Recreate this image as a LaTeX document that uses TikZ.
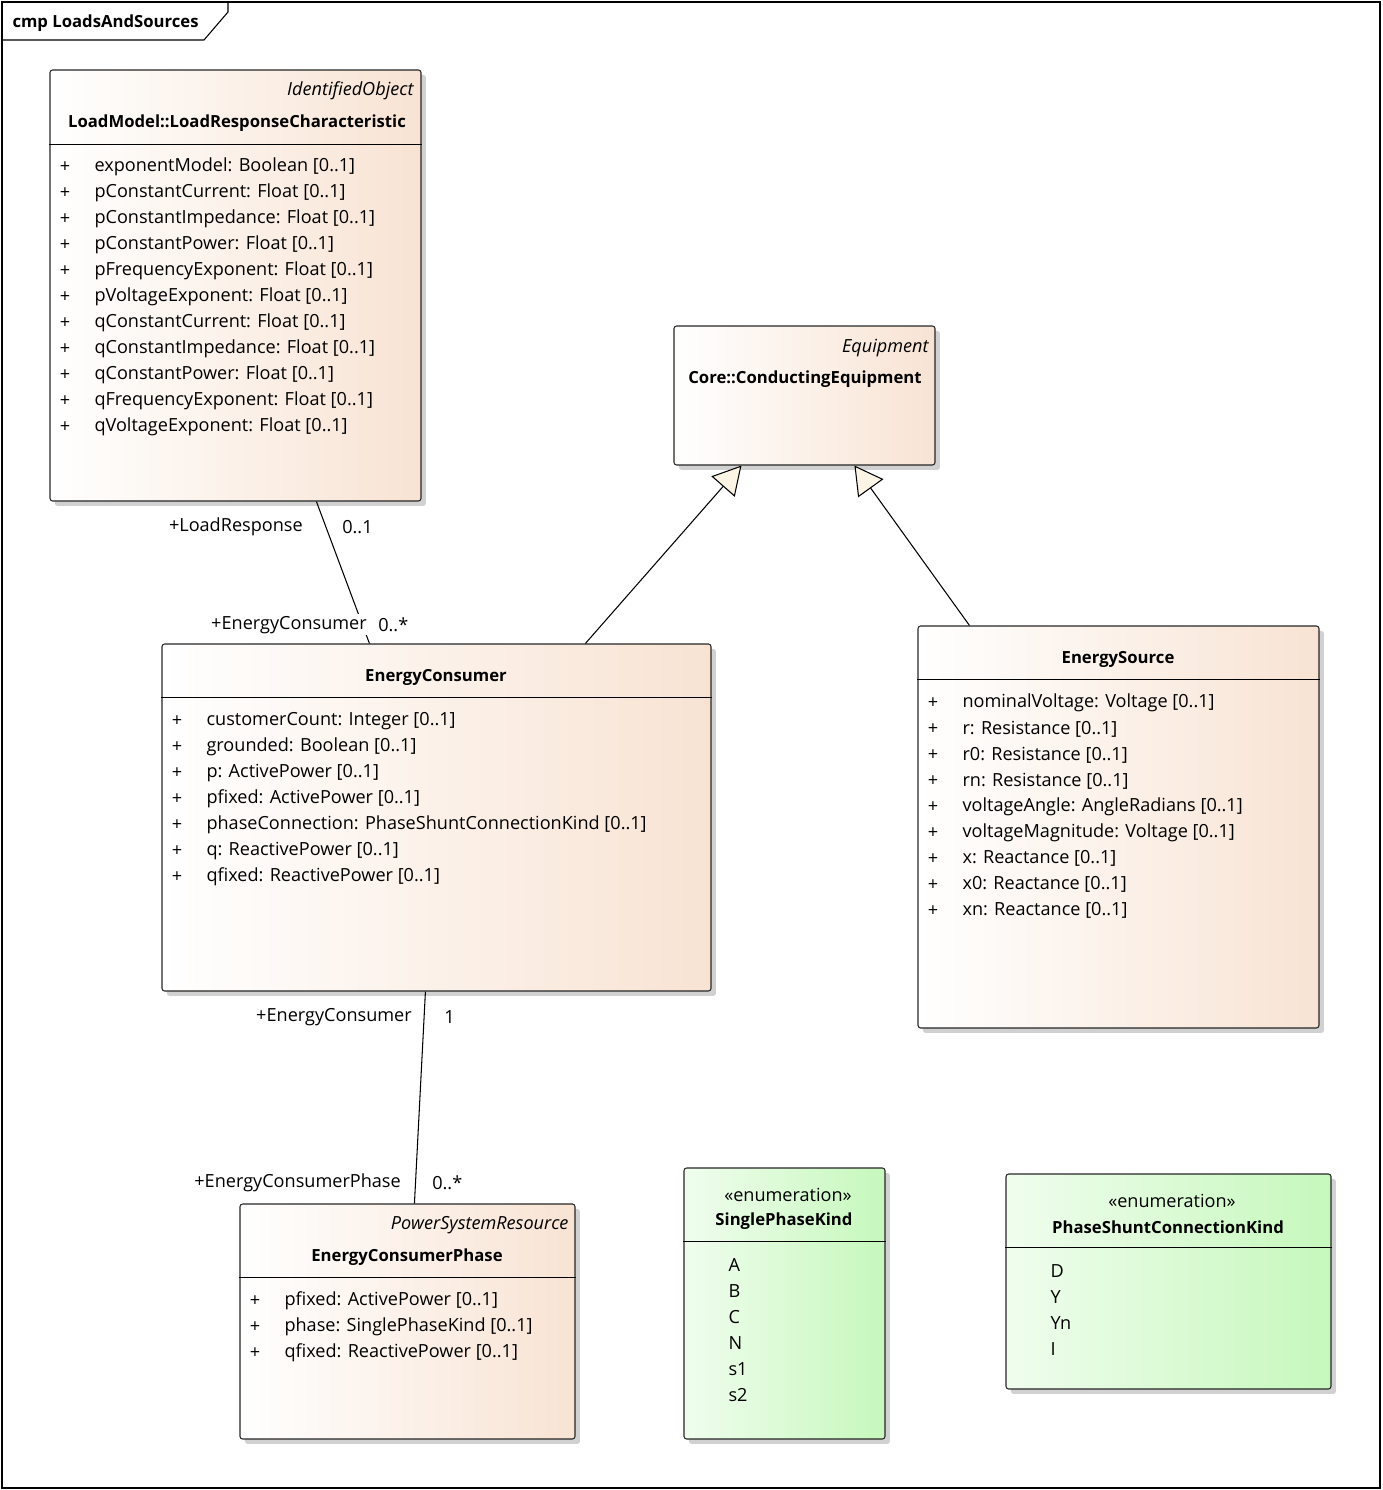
\documentclass[tikz,border=0pt]{standalone}
\usepackage{fontspec}
\setmainfont{Open Sans}
\usetikzlibrary{fit,shadows,arrows.meta}
\definecolor{peach}{RGB}{248,227,211}
\definecolor{mint}{RGB}{198,248,188}
\definecolor{mintlight}{RGB}{240,253,238}
\definecolor{tricream}{RGB}{252,244,228}
\begin{document}
\begin{tikzpicture}[x=0.02cm, y=-0.02cm, line width=0.6pt,
    classbox/.style={draw=black!85, rounded corners=1.5pt, inner sep=0pt,
      left color=white, right color=peach,
      drop shadow={shadow xshift=2.8pt, shadow yshift=-2.8pt, fill=black!18, opacity=1}},
    enumbox/.style={classbox, left color=mintlight, right color=mint},
    attr/.style={anchor=west, inner sep=0pt, yshift=-1.6pt, font=\fontsize{10.3}{12}\selectfont},
    cname/.style={inner sep=0pt, yshift=-1.6pt, font=\bfseries\fontsize{9.5}{12}\selectfont},
    stereo/.style={anchor=east, inner sep=0pt, yshift=-1.6pt, font=\itshape\fontsize{10.3}{12}\selectfont},
    role/.style={inner sep=1pt, fill=white, yshift=-1.6pt, font=\fontsize{10.3}{12}\selectfont},
    gen/.style={-{Triangle[length=0.56cm, width=0.62cm, fill=tricream]}}]
    \useasboundingbox (0,0) rectangle (1382,1490);

    % frame
    \draw (2,2) rectangle (1380,1488);
    \draw (2,40) -- (204,40) -- (228,12) -- (228,2);
    \node[attr, font=\bfseries\fontsize{9.5}{12}\selectfont] (title) at (12,20) {cmp LoadsAndSources};

    % classes
    \node[classbox, fit={(50,70) (421,501)}] (lrc) {};
    \node[stereo] at (414,88) (lrcst) {IdentifiedObject};
    \node[cname] at (237,120) (lrcname) {LoadModel::LoadResponseCharacteristic};
    \draw ([yshift=-1.5cm]lrc.north west) -- ([yshift=-1.5cm]lrc.north east);
    \foreach \a [count=\i from 0] in {{exponentModel: Boolean [0..1]}, {pConstantCurrent: Float [0..1]},
        {pConstantImpedance: Float [0..1]}, {pConstantPower: Float [0..1]}, {pFrequencyExponent: Float [0..1]},
        {pVoltageExponent: Float [0..1]}, {qConstantCurrent: Float [0..1]}, {qConstantImpedance: Float [0..1]},
        {qConstantPower: Float [0..1]}, {qFrequencyExponent: Float [0..1]}, {qVoltageExponent: Float [0..1]}} {
      \node[attr, anchor=center] at (65,{164+26*\i}) {+};
      \node[attr] at (94,{164+26*\i}) {\a};
    }

    \node[classbox, fit={(674,326) (935,465)}] (ce) {};
    \node[stereo] at (929,345) (cest) {Equipment};
    \node[cname] at (805,376) (cename) {Core::ConductingEquipment};

    \node[classbox, fit={(162,644) (711,991)}] (ec) {};
    \node[cname] at (436,675) (ecname) {EnergyConsumer};
    \draw ([yshift=-1.08cm]ec.north west) -- ([yshift=-1.08cm]ec.north east);
    \foreach \a [count=\i from 0] in {{customerCount: Integer [0..1]}, {grounded: Boolean [0..1]},
        {p: ActivePower [0..1]}, {pfixed: ActivePower [0..1]}, {phaseConnection: PhaseShuntConnectionKind [0..1]},
        {q: ReactivePower [0..1]}, {qfixed: ReactivePower [0..1]}} {
      \node[attr, anchor=center] at (177,{718+26*\i}) {+};
      \node[attr] at (206,{718+26*\i}) {\a};
    }

    \node[classbox, fit={(918,626) (1319,1028)}] (es) {};
    \node[cname] at (1118,657) (esname) {EnergySource};
    \draw ([yshift=-1.08cm]es.north west) -- ([yshift=-1.08cm]es.north east);
    \foreach \a [count=\i from 0] in {{nominalVoltage: Voltage [0..1]}, {r: Resistance [0..1]},
        {r0: Resistance [0..1]}, {rn: Resistance [0..1]}, {voltageAngle: AngleRadians [0..1]},
        {voltageMagnitude: Voltage [0..1]}, {x: Reactance [0..1]}, {x0: Reactance [0..1]}, {xn: Reactance [0..1]}} {
      \node[attr, anchor=center] at (933,{700+26*\i}) {+};
      \node[attr] at (962,{700+26*\i}) {\a};
    }

    \node[classbox, fit={(240,1204) (575,1439)}] (ecp) {};
    \node[stereo] at (569,1222) (ecpst) {PowerSystemResource};
    \node[cname] at (407,1254) (ecpname) {EnergyConsumerPhase};
    \draw ([yshift=-1.48cm]ecp.north west) -- ([yshift=-1.48cm]ecp.north east);
    \foreach \a [count=\i from 0] in {{pfixed: ActivePower [0..1]}, {phase: SinglePhaseKind [0..1]},
        {qfixed: ReactivePower [0..1]}} {
      \node[attr, anchor=center] at (255,{1298+26*\i}) {+};
      \node[attr] at (284,{1298+26*\i}) {\a};
    }

    % enumerations
    \node[enumbox, fit={(684,1168) (885,1439)}] (spk) {};
    \node[attr, anchor=center] at (788,1192) (spkst) {«enumeration»};
    \node[cname] at (784,1218) (spkname) {SinglePhaseKind};
    \draw ([yshift=-1.48cm]spk.north west) -- ([yshift=-1.48cm]spk.north east);
    \foreach \a [count=\i from 0] in {A, B, C, N, s1, s2}
      \node[attr] at (728,{1262+26*\i}) {\a};

    \node[enumbox, fit={(1006,1174) (1331,1389)}] (psck) {};
    \node[attr, anchor=center] at (1172,1198) (psckst) {«enumeration»};
    \node[cname] at (1168,1224) (psckname) {PhaseShuntConnectionKind};
    \draw ([yshift=-1.48cm]psck.north west) -- ([yshift=-1.48cm]psck.north east);
    \foreach \a [count=\i from 0] in {D, Y, Yn, I}
      \node[attr] at (1050,{1268+26*\i}) {\a};

    % connectors
    \draw ([xshift=5.34cm]lrc.south west) -- ([xshift=4.16cm]ec.north west);
    \draw ([xshift=5.28cm]ec.south west) -- ([xshift=3.5cm]ecp.north west);
    \draw[gen] ([xshift=8.48cm]ec.north west) -- ([xshift=1.36cm]ce.south west);
    \draw[gen] ([xshift=1.04cm]es.north west) -- ([xshift=3.62cm]ce.south west);

    % role names and multiplicities
    \node[role, anchor=east] at (305,524) (lrrole) {+LoadResponse};
    \node[role, anchor=west] at (340,524) (lrmult) {0..1};
    \node[role, anchor=east] at (369,622) (ecrole) {+EnergyConsumer};
    \node[role, anchor=west] at (376,622) (ecmult) {0..*};
    \node[role, anchor=east] at (414,1014) (ecrole2) {+EnergyConsumer};
    \node[role, anchor=west] at (442,1014) (ecmult2) {1};
    \node[role, anchor=east] at (403,1180) (ecprole) {+EnergyConsumerPhase};
    \node[role, anchor=west] at (430,1180) (ecpmult) {0..*};
\end{tikzpicture}
\end{document}
